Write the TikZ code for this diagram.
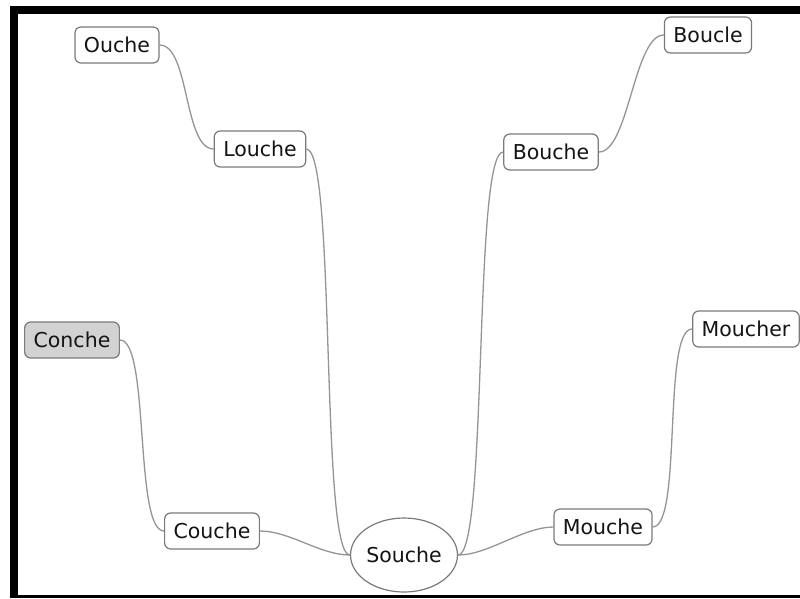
\documentclass[tikz,border=0pt]{standalone}
\usepackage{fontspec}
\setmainfont{DejaVu Sans}
\usetikzlibrary{shapes.geometric}
\definecolor{edgegray}{HTML}{959595}
\definecolor{boxgray}{HTML}{7A7A7A}
\definecolor{shade}{HTML}{D2D2D2}
\begin{document}
\begin{tikzpicture}[x=1pt,y=-1pt,
  every node/.style={font=\fontsize{20.5}{24}\selectfont, text=black!92},
  topic/.style={draw=boxgray, line width=1.2pt, rounded corners=6pt, fill=white,
    inner xsep=9pt, inner ysep=0pt, minimum height=36pt},
  marked/.style={topic, fill=shade},
  root/.style={ellipse, draw=boxgray, line width=1.2pt, fill=white,
    minimum width=107pt, minimum height=74pt, inner sep=0pt},
  conn/.style={draw=edgegray, line width=1.3pt}]
\useasboundingbox (0,0) rectangle (800,598);
\fill[white] (0,0) rectangle (800,598);
% frame
\fill[black] (10,6) rectangle (800,14);
\fill[black] (10,6) rectangle (18,598);
\fill[black] (10,595) rectangle (800,598);

% topics
\node[root]   (souche)  at (404,555) {Souche};
\node[topic]  (ouche)   at (117,45)  {Ouche};
\node[topic]  (louche)  at (260,149) {Louche};
\node[topic]  (boucle)  at (708,35)  {Boucle};
\node[topic]  (bouche)  at (551,152) {Bouche};
\node[marked] (conche)  at (72,340)  {Conche};
\node[topic]  (moucher) at (746,329) {Moucher};
\node[topic]  (couche)  at (212,531) {Couche};
\node[topic]  (mouche)  at (603,527) {Mouche};

% links
\draw[conn] (louche.east) .. controls +(30,0) and +(-30,0) .. (souche.west);
\draw[conn] (couche.east) .. controls +(30,0) and +(-30,0) .. (souche.west);
\draw[conn] (bouche.west) .. controls +(-30,0) and +(30,0) .. (souche.east);
\draw[conn] (mouche.west) .. controls +(-30,0) and +(30,0) .. (souche.east);
\draw[conn] (ouche.east) .. controls +(30,0) and +(-30,0) .. (louche.west);
\draw[conn] (bouche.east) .. controls +(30,0) and +(-30,0) .. (boucle.west);
\draw[conn] (conche.east) .. controls +(30,0) and +(-30,0) .. (couche.west);
\draw[conn] (moucher.west) .. controls +(-30,0) and +(30,0) .. (mouche.east);
\end{tikzpicture}
\end{document}
